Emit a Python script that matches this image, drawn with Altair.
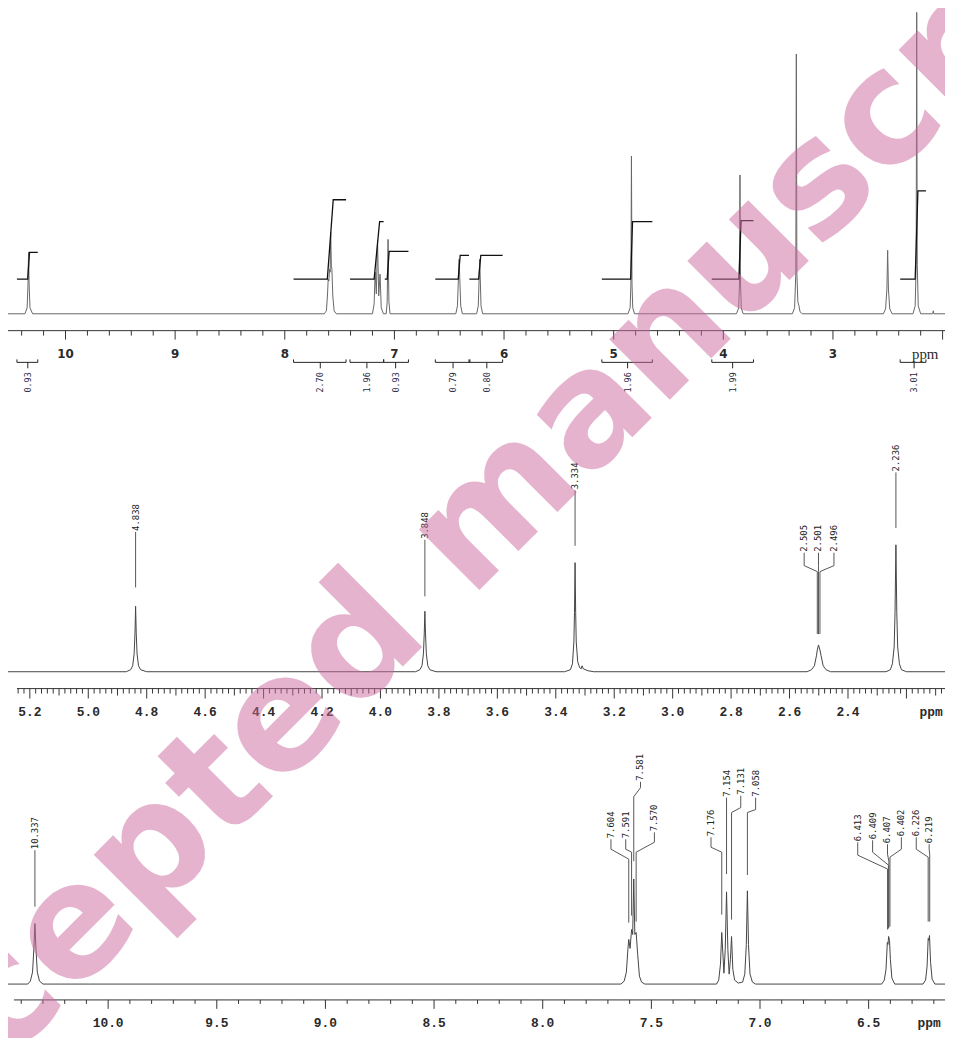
import altair as alt
import pandas as pd
import numpy as np

W, H = 945, 1030

# ================= TOP PANEL : full spectrum =================
TOP_X = [10.5245, 1.978]
TOP_Y = [312 - 8 - H, 312 - 8]

top_ppm = [10.5245, 10.37, 10.35, 10.342, 10.337, 10.332, 10.324, 10.30,
           7.64, 7.62, 7.61, 7.604, 7.598, 7.591, 7.586, 7.581, 7.575, 7.570, 7.562, 7.55, 7.53,
           7.20, 7.185, 7.176, 7.165, 7.154, 7.143, 7.131, 7.12, 7.10,
           7.075, 7.066, 7.058, 7.050, 7.04,
           6.44, 6.425, 6.41, 6.395, 6.38,
           6.25, 6.235, 6.222, 6.21, 6.195,
           4.87, 4.85, 4.843, 4.838, 4.833, 4.826, 4.81,
           3.88, 3.86, 3.853, 3.848, 3.843, 3.836, 3.82,
           3.37, 3.35, 3.339, 3.334, 3.329, 3.32, 3.31, 3.30, 3.28,
           2.54, 2.52, 2.508, 2.501, 2.494, 2.482, 2.46,
           2.27, 2.25, 2.241, 2.236, 2.231, 2.222, 2.20,
           2.09, 2.085, 2.08, 1.978]
top_int = [0, 0, 6, 30, 62, 30, 6, 0,
           0, 3, 20, 35, 33, 45, 42, 82, 48, 45, 18, 3, 0,
           0, 10, 42, 20, 74, 18, 40, 6, 0,
           0, 12, 75, 12, 0,
           0, 8, 55, 8, 0,
           0, 8, 55, 8, 0,
           0, 6, 30, 159, 30, 6, 0,
           0, 6, 30, 140, 30, 6, 0,
           0, 6, 40, 262, 40, 12, 8, 2, 0,
           0, 5, 25, 64, 25, 5, 0,
           0, 8, 50, 304, 50, 8, 0,
           0, 3, 0, 0]

# integral curves (ppm: left, rise start, rise end, right ; level above baseline)
integ_values = ["0.93", "2.70", "1.96", "0.93", "0.79", "0.80", "1.96", "1.99", "3.01"]
integ_left = [10.443, 7.920, 7.405, 7.088, 6.627, 6.316, 5.108, 4.105, 2.387]
integ_rs = [10.345, 7.612, 7.185, 7.066, 6.418, 6.232, 4.845, 3.858, 2.250]
integ_re = [10.328, 7.558, 7.135, 7.048, 6.400, 6.212, 4.828, 3.838, 2.225]
integ_right = [10.253, 7.441, 7.098, 6.872, 6.320, 6.013, 4.647, 3.725, 2.152]
integ_level = [62, 115, 93, 63, 59, 59, 93, 94, 124]
INTEG_BASE = 35

# integration brackets below the axis
brk_left = [10.443, 7.920, 7.405, 7.098, 6.627, 6.320, 5.108, 4.105, 2.387]
brk_right = [10.253, 7.441, 7.098, 6.872, 6.311, 6.013, 4.647, 3.725, 2.152]
brk_center = [10.344, 7.676, 7.251, 6.989, 6.465, 6.157, 4.873, 3.915, 2.260]

top_tick_labels = ["10", "9", "8", "7", "6", "5", "4", "3"]
top_tick_values = [10, 9, 8, 7, 6, 5, 4, 3]

# ================= MIDDLE PANEL : 5.2 - 2.1 ppm =================
MID_X = [5.2747, 2.068]
MID_Y = [673 - 8 - H, 673 - 8]

mid_ppm = [5.2747, 4.87, 4.855, 4.848, 4.843, 4.840, 4.838, 4.836, 4.833, 4.828, 4.821, 4.80,
           3.88, 3.865, 3.858, 3.853, 3.850, 3.848, 3.846, 3.843, 3.838, 3.831, 3.81,
           3.37, 3.35, 3.343, 3.338, 3.336, 3.334, 3.332, 3.330, 3.325, 3.318, 3.313, 3.310, 3.306, 3.29, 3.27,
           2.54, 2.525, 2.515, 2.508, 2.505, 2.501, 2.496, 2.492, 2.485, 2.475, 2.46,
           2.27, 2.255, 2.248, 2.242, 2.239, 2.236, 2.233, 2.230, 2.224, 2.217, 2.20, 2.068]
mid_int = [0, 0, 2, 6, 18, 40, 66, 40, 18, 6, 2, 0,
           0, 2, 6, 18, 40, 61, 40, 18, 6, 2, 0,
           0, 2, 8, 30, 60, 110, 60, 30, 10, 4, 3, 6, 3, 1, 0,
           0, 2, 6, 16, 22, 27, 22, 16, 6, 2, 0,
           0, 2, 8, 25, 60, 128, 60, 25, 8, 2, 0, 0]

mid_lab_text = ["4.838", "3.848", "3.334", "2.505", "2.501", "2.496", "2.236"]
mid_lab_x = [4.838, 3.848, 3.334, 2.550, 2.501, 2.448, 2.236]
mid_lab_peak = [4.838, 3.848, 3.334, 2.505, 2.501, 2.496, 2.236]
mid_lab_bottom = [141, 133, 183, 120, 120, 120, 201]
mid_lab_k1 = [141, 133, 183, 107, 107, 107, 201]
mid_lab_k2 = [141, 133, 183, 101, 101, 101, 201]
mid_lab_end = [85, 76, 127, 38, 38, 38, 145]

mid_tick_labels = ["5.2", "5.0", "4.8", "4.6", "4.4", "4.2", "4.0", "3.8", "3.6",
                   "3.4", "3.2", "3.0", "2.8", "2.6", "2.4"]
mid_tick_values = [5.2, 5.0, 4.8, 4.6, 4.4, 4.2, 4.0, 3.8, 3.6, 3.4, 3.2, 3.0, 2.8, 2.6, 2.4]

# ================= BOTTOM PANEL : 10.4 - 6.15 ppm =================
BOT_X = [10.4609, 6.1486]
BOT_Y = [988 - 8 - H, 988 - 8]

bot_ppm = [10.4609, 10.37, 10.358, 10.348, 10.342, 10.337, 10.332, 10.326, 10.316, 10.30,
           7.64, 7.625, 7.615, 7.608, 7.604, 7.598, 7.591, 7.586, 7.581, 7.576, 7.570, 7.563, 7.555, 7.545, 7.53,
           7.20, 7.19, 7.182, 7.176, 7.166, 7.160, 7.154, 7.148, 7.142, 7.136, 7.131, 7.125, 7.117, 7.10,
           7.08, 7.07, 7.063, 7.058, 7.053, 7.046, 7.035, 7.02,
           6.44, 6.428, 6.420, 6.414, 6.411, 6.408, 6.404, 6.400, 6.393, 6.38,
           6.25, 6.238, 6.231, 6.226, 6.223, 6.220, 6.215, 6.208, 6.195, 6.1486]
bot_int = [0, 0, 3, 12, 35, 61, 35, 12, 3, 0,
           0, 3, 12, 35, 45, 36, 55, 50, 106, 50, 52, 30, 8, 2, 0,
           0, 4, 20, 52, 11, 35, 93, 35, 10, 25, 48, 15, 4, 1,
           2, 10, 40, 94, 40, 10, 2, 0,
           0, 4, 15, 42, 40, 48, 44, 25, 6, 0,
           0, 4, 18, 46, 44, 49, 22, 5, 0, 0]

bot_lab_text = ["10.337", "7.604", "7.591", "7.581", "7.570", "7.176", "7.154", "7.131", "7.058",
                "6.413", "6.409", "6.407", "6.402", "6.226", "6.219"]
bot_lab_x = [10.337, 7.686, 7.618, 7.550, 7.486, 7.2255, 7.154, 7.0886, 7.0202,
             6.5502, 6.4817, 6.4132, 6.3494, 6.2809, 6.2216]
bot_lab_peak = [10.337, 7.604, 7.591, 7.581, 7.570, 7.176, 7.154, 7.131, 7.058,
                6.413, 6.409, 6.407, 6.402, 6.226, 6.219]
bot_lab_bottom = [135, 146, 146, 204, 153, 148, 188, 190, 188, 143, 145, 141, 148, 148, 141]
bot_lab_k1 = [135, 136, 136, 198, 143, 138, 188, 178, 176, 130, 133, 131, 136, 136, 136]
bot_lab_k2 = [135, 126, 133, 189, 133, 133, 188, 173, 173, 116, 120, 124, 128, 128, 131]
bot_lab_end = [78, 62, 69, 124, 63, 70, 111, 65, 110, 55, 56, 57, 58, 63, 63]

bot_tick_labels = ["10.0", "9.5", "9.0", "8.5", "8.0", "7.5", "7.0", "6.5"]
bot_tick_values = [10.0, 9.5, 9.0, 8.5, 8.0, 7.5, 7.0, 6.5]

WATERMARK = "Accepted manuscript"

# ================= helpers =================
def xs(field, dom):
    return alt.X(field, type="quantitative", scale=alt.Scale(domain=dom, nice=False, zero=False), axis=None)


def ys(field, dom):
    return alt.Y(field, type="quantitative", scale=alt.Scale(domain=dom, nice=False, zero=False), axis=None)


def spectrum(ppm, inten, XD, YD, color):
    df = pd.DataFrame({"ppm": ppm, "h": inten, "i": range(len(ppm))})
    return alt.Chart(df).mark_line(color=color, strokeWidth=1).encode(
        x=xs("ppm", XD), y=ys("h", YD), order=alt.Order("i:Q"))


def rules(df, XD, YD, color, width=1.0):
    return alt.Chart(df).mark_rule(color=color, strokeWidth=width).encode(
        x=xs("x", XD), x2=alt.X2("x2"), y=ys("y", YD), y2=alt.Y2("y2"))


def texts(df, XD, YD, **kw):
    return alt.Chart(df).mark_text(**kw).encode(x=xs("x", XD), y=ys("y", YD), text="t:N")


def seg_df(segs):
    return pd.DataFrame(segs, columns=["x", "y", "x2", "y2"])


def connector_df(lx, px, tb, k1, k2, end):
    segs = []
    for a, p, b, c, d, e in zip(lx, px, tb, k1, k2, end):
        segs += [(a, b, a, c), (a, c, p, d), (p, d, p, e)]
    return seg_df(segs)


def ticks_df(start, stop, step, axis_y, lengths):
    n = int(round((start - stop) / step)) + 1
    vals = [round(start - k * step, 3) for k in range(n)]
    segs = []
    for v in vals:
        ln = lengths(v)
        segs.append((v, axis_y, v, axis_y - ln))
    return seg_df(segs)


LABEL_FONT = "DejaVu Sans Mono"

# ================= build top panel =================
int_rows = []
for j in range(len(integ_left)):
    pts = [(integ_left[j], INTEG_BASE), (integ_rs[j], INTEG_BASE),
           (integ_re[j], integ_level[j]), (integ_right[j], integ_level[j])]
    for k, (a, b) in enumerate(pts):
        int_rows.append({"ppm": a, "h": b, "g": j, "i": k})
int_df = pd.DataFrame(int_rows)
top_integrals = alt.Chart(int_df).mark_line(color="#111111", strokeWidth=1.3).encode(
    x=xs("ppm", TOP_X), y=ys("h", TOP_Y), detail="g:N", order=alt.Order("i:Q"))

brk_segs = []
for a, b, c in zip(brk_left, brk_right, brk_center):
    brk_segs += [(a, -49, b, -49), (a, -49, a, -46), (b, -49, b, -46), (c, -49, c, -55)]
top_brackets = rules(seg_df(brk_segs), TOP_X, TOP_Y, "#222222", 1)
top_brk_text = texts(pd.DataFrame({"x": brk_center, "y": [-59] * len(brk_center), "t": integ_values}),
                     TOP_X, TOP_Y, angle=270, align="right", baseline="middle",
                     font=LABEL_FONT, fontSize=8.5, color="#2a2a44")

top_axis_line = rules(seg_df([(TOP_X[0], -17, TOP_X[1], -17)]), TOP_X, TOP_Y, "#333333", 1)
top_ticks = rules(ticks_df(10.4, 2.0, 0.2, -17,
                           lambda v: 9 if abs(v - round(v)) < 1e-6 else 5),
                  TOP_X, TOP_Y, "#333333", 1)
top_labels = texts(pd.DataFrame({"x": top_tick_values, "y": [-41] * len(top_tick_values), "t": top_tick_labels}),
                   TOP_X, TOP_Y, align="center", baseline="middle", font="DejaVu Sans",
                   fontSize=12, fontWeight="bold", color="#2a2a2a")
top_ppm_lab = texts(pd.DataFrame({"x": [2.159], "y": [-41], "t": ["ppm"]}), TOP_X, TOP_Y,
                    align="center", baseline="middle", font="Liberation Serif", fontSize=15,
                    color="#2a2a2a")

top_panel = alt.layer(
    spectrum(top_ppm, top_int, TOP_X, TOP_Y, "#666666"),
    top_integrals, top_axis_line, top_ticks, top_labels, top_ppm_lab,
    top_brackets, top_brk_text)

# ================= build middle panel =================
mid_axis_line = rules(seg_df([(5.244, -17, MID_X[1], -17)]), MID_X, MID_Y, "#333333", 1)


def mid_len(v):
    r = round(v * 100)
    if r % 20 == 0:
        return 10
    if r % 10 == 0:
        return 7
    return 5


mid_ticks = rules(ticks_df(5.24, 2.08, 0.02, -17, mid_len), MID_X, MID_Y, "#333333", 1)
mid_labels = texts(pd.DataFrame({"x": mid_tick_values + [2.1155],
                                 "y": [-41] * (len(mid_tick_values) + 1),
                                 "t": mid_tick_labels + ["ppm"]}),
                   MID_X, MID_Y, align="center", baseline="middle", font="Liberation Mono",
                   fontSize=13, fontWeight="bold", color="#2a2a2a")
mid_conn = rules(connector_df(mid_lab_x, mid_lab_peak, mid_lab_bottom, mid_lab_k1, mid_lab_k2, mid_lab_end),
                 MID_X, MID_Y, "#555555", 1)
mid_lab = texts(pd.DataFrame({"x": mid_lab_x, "y": [b + 1 for b in mid_lab_bottom], "t": mid_lab_text}),
                MID_X, MID_Y, angle=270, align="left", baseline="middle", font=LABEL_FONT,
                fontSize=9, color="#222222")

mid_panel = alt.layer(spectrum(mid_ppm, mid_int, MID_X, MID_Y, "#444444"),
                      mid_axis_line, mid_ticks, mid_labels, mid_conn, mid_lab)

# ================= build bottom panel =================
bot_axis_line = rules(seg_df([(10.4335, -16, BOT_X[1], -16)]), BOT_X, BOT_Y, "#333333", 1)


def bot_len(v):
    r = round(v * 10)
    return 9 if r % 5 == 0 else 4


bot_ticks = rules(ticks_df(10.4, 6.2, 0.1, -16, bot_len), BOT_X, BOT_Y, "#333333", 1)
bot_labels = texts(pd.DataFrame({"x": bot_tick_values + [6.2216],
                                 "y": [-39] * (len(bot_tick_values) + 1),
                                 "t": bot_tick_labels + ["ppm"]}),
                   BOT_X, BOT_Y, align="center", baseline="middle", font="Liberation Mono",
                   fontSize=13, fontWeight="bold", color="#2a2a2a")
bot_conn = rules(connector_df(bot_lab_x, bot_lab_peak, bot_lab_bottom, bot_lab_k1, bot_lab_k2, bot_lab_end),
                 BOT_X, BOT_Y, "#555555", 1)
bot_lab = texts(pd.DataFrame({"x": bot_lab_x, "y": [b + 1 for b in bot_lab_bottom], "t": bot_lab_text}),
                BOT_X, BOT_Y, angle=270, align="left", baseline="middle", font=LABEL_FONT,
                fontSize=9, color="#222222")

bot_panel = alt.layer(spectrum(bot_ppm, bot_int, BOT_X, BOT_Y, "#444444"),
                      bot_axis_line, bot_ticks, bot_labels, bot_conn, bot_lab)

# ================= watermark =================
wm = alt.Chart(pd.DataFrame({"t": [WATERMARK]})).mark_text(
    angle=315, align="center", baseline="alphabetic", font="DejaVu Sans", fontWeight="bold",
    fontSize=158, color="#cc6a9e", opacity=0.5
).encode(text="t:N", x=alt.value(510), y=alt.value(548))

chart = alt.layer(top_panel, mid_panel, bot_panel, wm).resolve_scale(
    x="independent", y="independent"
).properties(
    width=W, height=H, padding=0, background="white",
    autosize=alt.AutoSizeParams(type="none")
).configure_view(strokeOpacity=0)

chart.save("out.html", embed_options={"renderer": "svg", "actions": False})
